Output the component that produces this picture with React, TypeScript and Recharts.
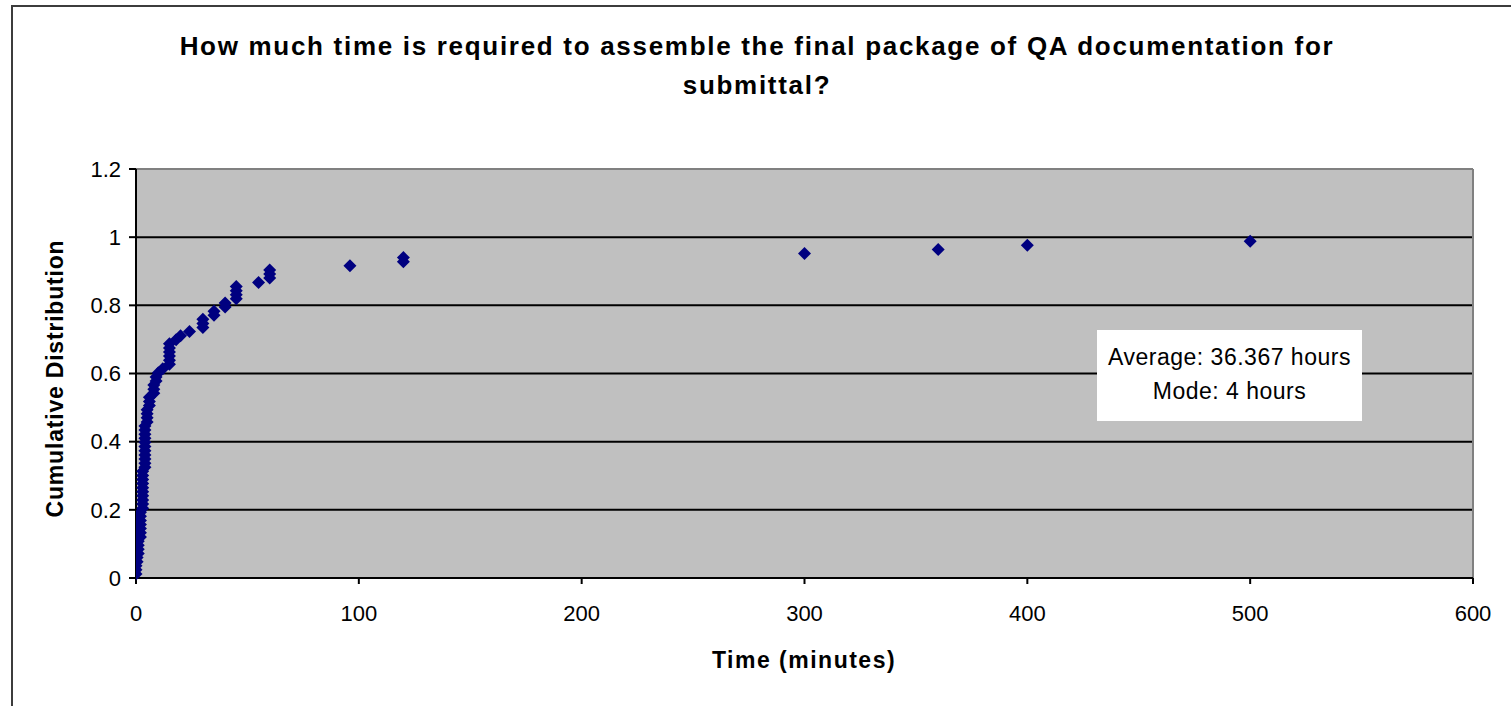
import React from 'react';
import {
  ScatterChart,
  Scatter,
  XAxis,
  YAxis,
  CartesianGrid,
  ReferenceLine,
} from 'recharts';

// time to assemble QA package, minutes (sorted responses)
const minutes = [
  0, 0, 0, 0.5, 0.5, 1, 1, 1, 1, 2,
  2, 2, 2, 2, 2, 2, 3, 3, 3, 3,
  3, 3, 3, 3, 3, 3, 4, 4, 4, 4,
  4, 4, 4, 4, 4, 4, 4, 5, 5, 5,
  5, 6, 6, 6, 8, 8, 8, 9, 9, 10,
  12, 15, 15, 15, 15, 15, 15, 18, 20, 24,
  30, 30, 30, 35, 35, 40, 40, 45, 45, 45,
  45, 55, 60, 60, 60, 96, 120, 120, 300, 360,
  400, 500,
];

const cumulative = [
  0.012, 0.024, 0.036, 0.048, 0.06, 0.072, 0.084, 0.096, 0.108, 0.12,
  0.133, 0.145, 0.157, 0.169, 0.181, 0.193, 0.205, 0.217, 0.229, 0.241,
  0.253, 0.265, 0.277, 0.289, 0.301, 0.313, 0.325, 0.337, 0.349, 0.361,
  0.373, 0.386, 0.398, 0.41, 0.422, 0.434, 0.446, 0.458, 0.47, 0.482,
  0.494, 0.506, 0.518, 0.53, 0.542, 0.554, 0.566, 0.578, 0.59, 0.602,
  0.614, 0.627, 0.639, 0.651, 0.663, 0.675, 0.687, 0.699, 0.711, 0.723,
  0.735, 0.747, 0.759, 0.771, 0.783, 0.795, 0.807, 0.819, 0.831, 0.843,
  0.855, 0.867, 0.88, 0.892, 0.904, 0.916, 0.928, 0.94, 0.952, 0.964,
  0.976, 0.988,
];

const xTicks = [0, 100, 200, 300, 400, 500, 600];
const yTicks = [0, 0.2, 0.4, 0.6, 0.8, 1, 1.2];

const FONT = '"Liberation Sans", Arial, sans-serif';

const Diamond = (props: any) => {
  const { cx, cy } = props;
  if (cx == null || cy == null) return null;
  const r = 6.5;
  return (
    <polygon
      points={`${cx},${cy - r} ${cx + r},${cy} ${cx},${cy + r} ${cx - r},${cy}`}
      fill="#000080"
    />
  );
};

export default function App() {
  const data = minutes.map((m, i) => ({ minutes: m, cumulative: cumulative[i] }));
  const tickStyle = { fill: '#000', fontSize: 22, fontFamily: FONT };

  return (
    <div
      style={{
        position: 'absolute',
        left: 0,
        top: 0,
        width: 1511,
        height: 706,
        overflow: 'hidden',
        background: '#fff',
        fontFamily: FONT,
      }}
    >
      <div
        style={{
          position: 'absolute',
          left: 11,
          top: 5,
          width: 1520,
          height: 720,
          border: '2px solid #3c3c3c',
        }}
      />
      <div
        style={{
          position: 'absolute',
          left: 107,
          top: 27,
          width: 1300,
          textAlign: 'center',
          fontWeight: 'bold',
          fontSize: 26,
          lineHeight: '39px',
          letterSpacing: 1.7,
          color: '#000',
        }}
      >
        How much time is required to assemble the final package of QA documentation for
        <br />
        submittal?
      </div>

      <ScatterChart
        width={1511}
        height={706}
        margin={{ top: 169, right: 38, bottom: 98, left: 76 }}
        style={{ position: 'absolute', left: 0, top: 0 }}
      >
        <CartesianGrid fill="#c0c0c0" horizontal={false} vertical={false} />
        {yTicks
          .filter((v) => v > 0 && v < 1.2)
          .map((v) => (
            <ReferenceLine key={v} y={v} stroke="#000" strokeWidth={2} />
          ))}
        <ReferenceLine y={1.2} stroke="#808080" strokeWidth={2} />
        <ReferenceLine x={600} stroke="#808080" strokeWidth={2} />
        <XAxis
          type="number"
          dataKey="minutes"
          domain={[0, 600]}
          ticks={xTicks}
          stroke="#000"
          strokeWidth={2}
          tickSize={6}
          tickMargin={21}
          tick={tickStyle}
          height={30}
          allowDataOverflow
        />
        <YAxis
          type="number"
          dataKey="cumulative"
          domain={[0, 1.2]}
          ticks={yTicks}
          stroke="#000"
          strokeWidth={2}
          tickSize={7}
          tickMargin={8}
          tick={tickStyle}
          width={60}
        />
        <Scatter data={data} shape={<Diamond />} isAnimationActive={false} />
      </ScatterChart>

      <div
        style={{
          position: 'absolute',
          left: 1097,
          top: 330,
          width: 265,
          height: 91,
          background: '#fff',
          textAlign: 'center',
          fontSize: 23,
          letterSpacing: 0.5,
          lineHeight: '34px',
          paddingTop: 10,
          boxSizing: 'border-box',
          color: '#000',
        }}
      >
        Average: 36.367 hours
        <br />
        Mode: 4 hours
      </div>

      <div
        style={{
          position: 'absolute',
          left: 654,
          top: 647,
          width: 300,
          textAlign: 'center',
          fontWeight: 'bold',
          fontSize: 23,
          letterSpacing: 1.5,
          color: '#000',
        }}
      >
        Time (minutes)
      </div>
      <div
        style={{
          position: 'absolute',
          left: 55 - 160,
          top: 379 - 14,
          width: 320,
          textAlign: 'center',
          fontWeight: 'bold',
          fontSize: 23,
          letterSpacing: 0.8,
          transform: 'rotate(-90deg)',
          color: '#000',
        }}
      >
        Cumulative Distribution
      </div>
    </div>
  );
}
